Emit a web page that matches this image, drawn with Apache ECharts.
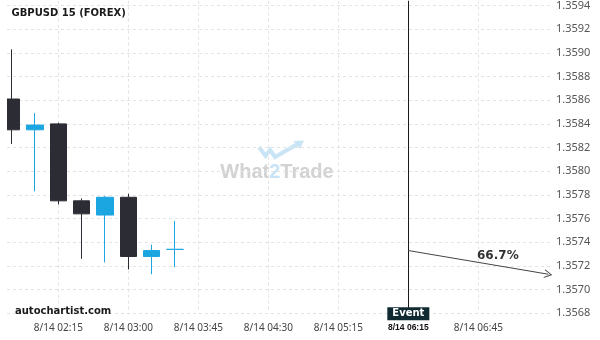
<!DOCTYPE html>
<html>
<head>
<meta charset="utf-8">
<script src="https://cdn.jsdelivr.net/npm/echarts@6/dist/echarts.min.js"></script>
<style>html,body{margin:0;padding:0;background:#fff;}#c{width:600px;height:340px;}</style>
</head>
<body>
<div id="c"></div>
<script>
// ---- data ----
const title = 'GBPUSD 15 (FOREX)';
const times  = ['01:45','02:00','02:15','02:30','02:45','03:00','03:15','03:30'];
const opens  = [1.35861, 1.35835, 1.35840, 1.35775, 1.35763, 1.35778, 1.35728, 1.35734];
const closes = [1.35835, 1.35839, 1.35775, 1.35764, 1.35778, 1.35728, 1.35733, 1.35734];
const lows   = [1.35823, 1.35783, 1.35772, 1.35726, 1.35723, 1.35717, 1.35713, 1.35719];
const highs  = [1.35903, 1.35849, 1.35841, 1.35777, 1.35779, 1.35781, 1.35738, 1.35758];
// x axis: 15-minute slots, slot 0 = 8/14 01:45
const tickSlots  = [2, 5, 8, 11, 14, 17, 20];
const tickLabels = ['8/14 02:15','8/14 03:00','8/14 03:45','8/14 04:30','8/14 05:15','8/14 06:15','8/14 06:45'];
const eventSlot = 17;
const eventText = 'Event';
const forecastStart = [17, 1.35733];
const forecastEnd   = [23, 1.35713];
const forecastProb  = '66.7%';
const yMin = 1.3568, yMax = 1.35944, yStep = 0.0002;
const xMin = -0.2, xMax = 23.157;

const upColor = '#1ba6e1', downColor = '#2c2c35';
const gridLeft = 7, gridRight = 48, gridBottom = 26.7;

const chart = echarts.init(document.getElementById('c'), null, {renderer: 'canvas'});
const candles = times.map((t, i) => [i, opens[i], closes[i], lows[i], highs[i]]);
const gridLine = {color: '#e3e3e3', width: 1, type: [3, 3]};
const arrowPath = 'path://M0,10 L5,0 L10,10 L8.8,10 L5,2.4 L1.2,10 Z';
const mid = [(forecastStart[0] + forecastEnd[0]) / 2, (forecastStart[1] + forecastEnd[1]) / 2];

chart.setOption({
  animation: false,
  grid: {left: gridLeft, right: gridRight, top: 0, bottom: gridBottom, containLabel: false},
  xAxis: {
    type: 'value', min: xMin, max: xMax,
    axisLine: {show: false},
    axisTick: {show: false, customValues: tickSlots},
    axisLabel: {
      customValues: tickSlots,
      margin: 10,
      fontSize: 10, fontFamily: 'Noto Sans', color: '#444',
      formatter: function (v) {
        const k = tickSlots.indexOf(Math.round(v));
        if (k < 0) return '';
        return Math.round(v) === eventSlot ? '{ev|' + tickLabels[k] + '}' : tickLabels[k];
      },
      rich: {ev: {fontWeight: 'bold', fontSize: 8.5, fontFamily: 'Liberation Sans', color: '#111'}}
    },
    splitLine: {show: true, lineStyle: gridLine}
  },
  yAxis: {
    type: 'value', position: 'right', min: yMin, max: yMax, interval: yStep,
    axisLine: {show: false}, axisTick: {show: false},
    axisLabel: {margin: 4, fontSize: 11, fontFamily: 'Noto Sans', color: '#555', showMaxLabel: false,
      formatter: v => v.toFixed(4)},
    splitLine: {show: true, showMaxLine: false, lineStyle: gridLine}
  },
  graphic: [
    // mask left of the plot area so the first candle is clipped at the plot edge
    {type: 'rect', z: 50, silent: true, shape: {x: 0, y: 0, width: gridLeft, height: 340 - gridBottom},
      style: {fill: '#fff'}},
    {type: 'text', left: 11.5, top: 8.5, z: 60,
      style: {text: title, font: 'bold 10px "DejaVu Sans"', fill: '#1a1a1a'}},
    {type: 'text', left: 15, top: 306, z: 60,
      style: {text: 'autochartist.com', font: 'bold 10px "DejaVu Sans"', fill: '#1a1a1a'}},
    {type: 'group', z: 0, children: [
      {type: 'polyline', shape: {points: [[259, 147], [265.5, 156], [270, 150], [275, 157], [298.5, 143.5]]},
        style: {stroke: '#c9e5f5', lineWidth: 4, fill: null, lineJoin: 'miter'}},
      {type: 'polygon', shape: {points: [[304, 140.5], [293.5, 141], [300, 149]]},
        style: {fill: '#c9e5f5'}},
      {type: 'text', x: 277, y: 172.5,
        style: {text: '{g|What}{b|2}{g|Trade}', align: 'center', verticalAlign: 'middle',
          rich: {g: {fill: '#d2d2d2', font: 'bold 20px "Liberation Sans"'},
                 b: {fill: '#c6e4f5', font: 'bold 20px "Liberation Sans"'}}}}
    ]}
  ],
  series: [{
    type: 'candlestick',
    clip: true,
    data: candles,
    encode: {x: 0, y: [1, 2, 3, 4]},
    barWidth: 17,
    itemStyle: {color: upColor, color0: downColor, borderColor: upColor, borderColor0: downColor,
      borderColorDoji: upColor, borderWidth: 1},
    markLine: {
      silent: true, symbol: ['none', 'none'], animation: false,
      data: [
        {xAxis: eventSlot, lineStyle: {color: '#1a1a1a', width: 1, type: 'solid'},
          label: {show: true, position: 'start', formatter: eventText, distance: -6,
            backgroundColor: '#0f2a30', color: '#fff', fontWeight: 'bold', fontSize: 10,
            fontFamily: 'DejaVu Sans', padding: [1, 5, 1, 5], lineHeight: 11}},
        [
          {coord: forecastStart, symbol: 'none', lineStyle: {color: '#444', width: 1, type: 'solid'}, label: {show: false}},
          {coord: forecastEnd, symbol: arrowPath, symbolSize: [9, 8]}
        ]
      ]
    },
    markPoint: {
      silent: true, animation: false,
      data: [{coord: mid, symbol: 'circle', symbolSize: 0,
        label: {show: true, formatter: forecastProb, position: 'inside', offset: [19.5, -6.5],
          fontWeight: 'bold', fontSize: 12, fontFamily: 'DejaVu Sans', color: '#333'}}]
    }
  }]
});
</script>
</body>
</html>
